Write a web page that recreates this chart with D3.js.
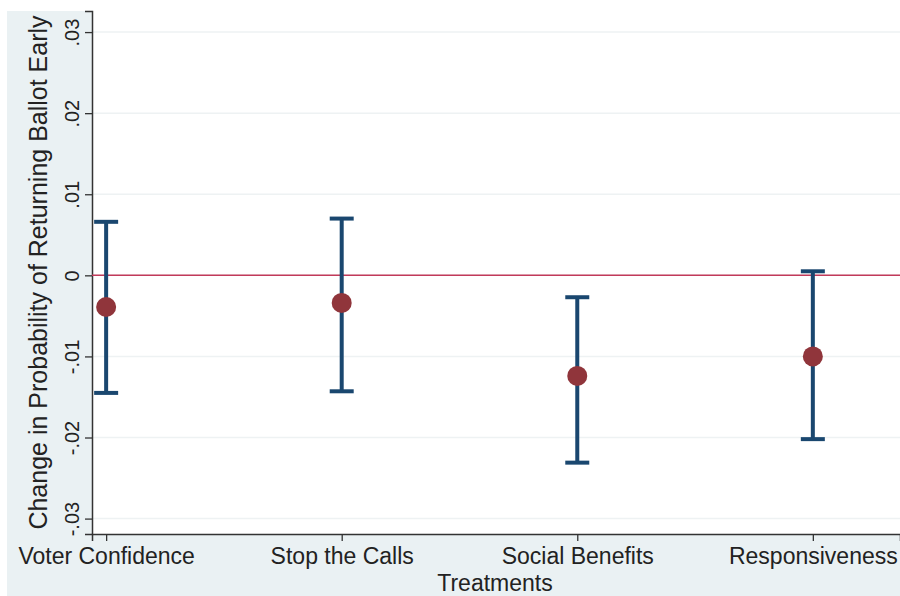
<!DOCTYPE html>
<html>
<head>
<meta charset="utf-8">
<script src="https://cdn.jsdelivr.net/npm/d3@7"></script>
<style>
  body { margin: 0; background: #fff; }
  svg { display: block; font-family: "Liberation Sans", Arial, sans-serif; }
</style>
</head>
<body>
<svg width="900" height="596"></svg>
<script>
var treatments = ["Voter Confidence", "Stop the Calls", "Social Benefits", "Responsiveness"];
var estimates = [-0.0039, -0.0034, -0.0124, -0.0100];
var upper = [0.0066, 0.0070, -0.0027, 0.0005];
var lower = [-0.0145, -0.0143, -0.0231, -0.0202];
var yTicks = [-0.03, -0.02, -0.01, 0, 0.01, 0.02, 0.03];
var yTickLabels = ["-.03", "-.02", "-.01", "0", ".01", ".02", ".03"];

var svg = d3.select("svg"),
    margin = {top: 11, right: 0, bottom: 62, left: 92},
    width = svg.attr("width") - margin.left - margin.right,
    height = svg.attr("height") - margin.top - margin.bottom;

// outer stata-ish background
svg.append("rect")
    .attr("x", 7).attr("y", 11)
    .attr("width", 893).attr("height", 585)
    .style("fill", "#eaf1f3");

var g = svg.append("g").attr("transform", "translate(" + margin.left + "," + margin.top + ")");

var x = d3.scaleLinear().domain([0.94, 4.37]).range([0, width]),
    y = d3.scaleLinear().domain([-0.0319, 0.0326]).range([height, 0]);

g.append("rect")
    .attr("width", width).attr("height", height)
    .style("fill", "#ffffff");

// grid lines
g.selectAll(".grid")
  .data(yTicks)
  .enter().append("line")
    .attr("class", "grid")
    .attr("x1", 0).attr("x2", width)
    .attr("y1", function(d) { return y(d); })
    .attr("y2", function(d) { return y(d); })
    .style("stroke", "#eef2f3")
    .style("stroke-width", 1.5);

// y axis
var yAxis = g.append("g")
    .call(d3.axisLeft(y).tickValues(yTicks).tickSize(7)
      .tickFormat(function(d, i) { return yTickLabels[i]; }));
yAxis.select(".domain").style("stroke", "#333").style("stroke-width", 1.5);
yAxis.selectAll(".tick line").style("stroke", "#333").style("stroke-width", 1.3);
yAxis.selectAll(".tick text")
    .attr("transform", "rotate(-90)")
    .attr("x", 0).attr("y", -13)
    .attr("dy", "0")
    .style("text-anchor", "middle")
    .style("font-size", "20px")
    .style("fill", "#222")
    .style("font-family", "Liberation Sans, Arial, sans-serif");

// x axis
var xAxis = g.append("g")
    .attr("transform", "translate(0," + height + ")")
    .call(d3.axisBottom(x).tickValues([1, 2, 3, 4]).tickSize(7)
      .tickFormat(function(d) { return treatments[d - 1]; }));
xAxis.select(".domain").style("stroke", "#333").style("stroke-width", 1.5);
xAxis.selectAll(".tick line").style("stroke", "#333").style("stroke-width", 1.3);
xAxis.selectAll(".tick text")
    .attr("y", 14)
    .style("font-size", "23px")
    .style("fill", "#222")
    .style("font-family", "Liberation Sans, Arial, sans-serif");

// reference line at zero
g.append("line")
    .attr("x1", 0).attr("x2", width)
    .attr("y1", y(0)).attr("y2", y(0))
    .style("stroke", "#c23a5a")
    .style("stroke-width", 1.5);

var rows = treatments.map(function(t, i) {
  return {i: i + 1, est: estimates[i], hi: upper[i], lo: lower[i]};
});

var bar = g.selectAll(".ci")
  .data(rows)
  .enter().append("g")
    .attr("class", "ci");

bar.append("line")
    .attr("x1", function(d) { return x(d.i); })
    .attr("x2", function(d) { return x(d.i); })
    .attr("y1", function(d) { return y(d.hi); })
    .attr("y2", function(d) { return y(d.lo); })
    .style("stroke", "#1a476f").style("stroke-width", 4);

bar.selectAll(".cap")
  .data(function(d) { return [d.hi, d.lo].map(function(v) { return {i: d.i, v: v}; }); })
  .enter().append("line")
    .attr("class", "cap")
    .attr("x1", function(d) { return x(d.i) - 12; })
    .attr("x2", function(d) { return x(d.i) + 12; })
    .attr("y1", function(d) { return y(d.v); })
    .attr("y2", function(d) { return y(d.v); })
    .style("stroke", "#1a476f").style("stroke-width", 4);

bar.append("circle")
    .attr("cx", function(d) { return x(d.i); })
    .attr("cy", function(d) { return y(d.est); })
    .attr("r", 10)
    .style("fill", "#90353b");

// axis titles
svg.append("text")
    .attr("transform", "translate(47," + (margin.top + height / 2) + ") rotate(-90)")
    .style("text-anchor", "middle")
    .style("font-size", "25px")
    .style("fill", "#222")
    .text("Change in Probability of Returning Ballot Early");

svg.append("text")
    .attr("x", 495).attr("y", 591)
    .style("text-anchor", "middle")
    .style("font-size", "23px")
    .style("fill", "#222")
    .text("Treatments");
</script>
</body>
</html>
